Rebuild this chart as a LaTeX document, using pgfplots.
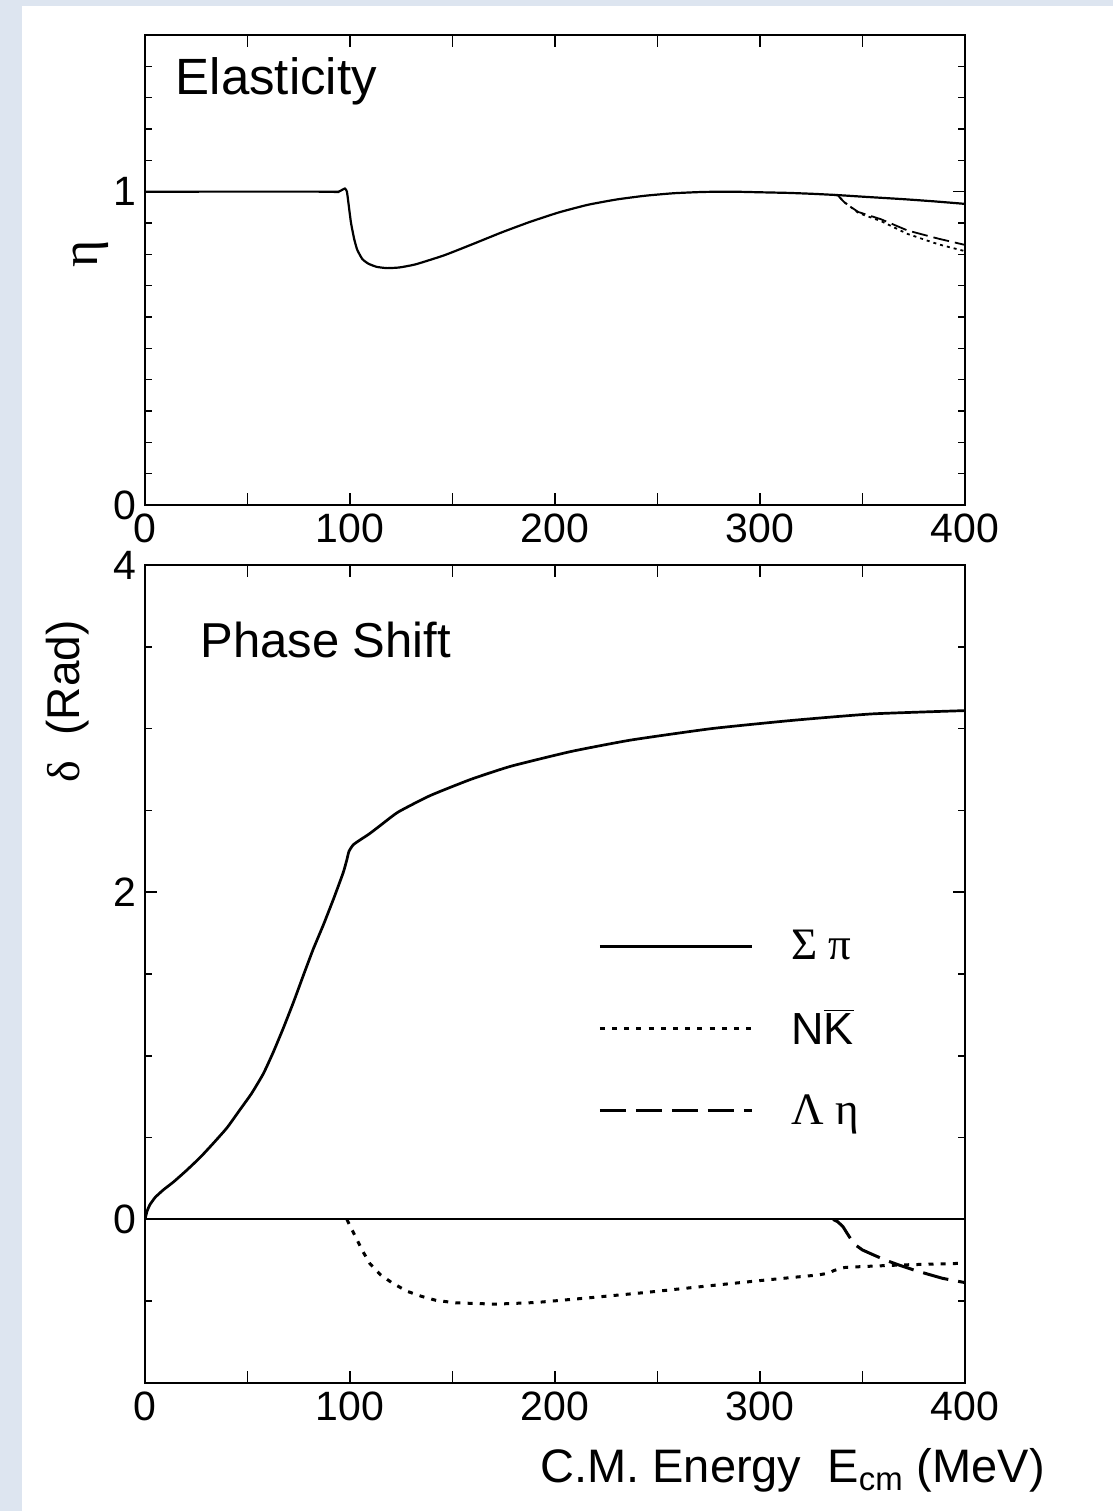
\documentclass[border=0pt]{standalone}
\usepackage{fontspec}
\setmainfont{Liberation Sans}
\newfontfamily\grk{Liberation Serif}
\usepackage{pgfplots}
\pgfplotsset{compat=1.18}
\definecolor{bgblue}{RGB}{221,229,240}

\pgfplotsset{
  myaxis/.style={
    scale only axis, width=410pt, anchor=south west,
    xmin=0, xmax=400,
    axis line style={line width=1pt},
    tick pos=both, tick align=inside,
    major tick length=6pt, minor tick length=3.5pt,
    every tick/.append style={line width=0.8pt, black},
    xtick={0,50,100,150,200,250,300,350,400},
    xticklabels={0,,100,,200,,300,,400},
    ticklabel style={font=\fontsize{20.5}{20.5}\selectfont},
    /pgf/number format/assume math mode=true,
    xticklabel style={yshift=-1pt},
    yticklabel style={xshift=-1pt},
  },
  dotstyle/.style={line width=1.5pt, dash pattern=on 2.5pt off 3.6pt},
  dashstyle/.style={line width=1.5pt, dash pattern=on 13pt off 5pt},
}

\begin{document}
\begin{tikzpicture}
\path[fill=bgblue, use as bounding box] (0pt,0pt) rectangle (556.5pt,755.5pt);
\fill[white] (11pt,0pt) rectangle (556.5pt,752.5pt);

% ---------------- Top: Elasticity ----------------
\begin{axis}[myaxis, at={(72.5pt,503pt)}, height=235pt,
  ymin=0, ymax=1.5,
  ytick={0,1}, yticklabels={0,1},
  minor ytick={0.1,0.2,0.3,0.4,0.5,0.6,0.7,0.8,0.9,1.1,1.2,1.3,1.4},
  ylabel={\grk η},
  ylabel style={at={(axis description cs:-0.066,0.534)}, anchor=center, font=\fontsize{26}{26}\selectfont},
]
\node[anchor=base west, font=\fontsize{25.5}{25.5}\selectfont, inner sep=0pt] at (rel axis cs:0.037,0.874) {Elasticity};
\addplot[black, line width=1.1pt, smooth, tension=0.3] coordinates {
(0,1) (90,1) (94,0.999) (96,1.005) (97.5,1.01) (98.5,1.0) (99.5,0.95) (100.5,0.9)
(102,0.85) (103.5,0.815) (106,0.785) (109,0.77) (113,0.76) (118,0.756) (124,0.758)
(132,0.768) (146,0.797) (160,0.833) (174,0.87) (188,0.904) (202,0.934) (216,0.958)
(230,0.975) (244,0.987) (258,0.995) (272,0.999) (286,1.0) (300,0.998) (314,0.996)
(326,0.993) (338,0.989) (350,0.984) (370,0.976) (385,0.969) (400,0.961)
};
\addplot[black, line width=0.9pt, dash pattern=on 1.5pt off 2pt] coordinates {
(336,0.99) (338,0.988) (341,0.967) (344.5,0.95) (348,0.932) (359,0.906) (372,0.865) (387,0.832) (400,0.81)
};
\addplot[black, line width=0.9pt, dash pattern=on 8pt off 3pt] coordinates {
(336,0.99) (338,0.988) (341,0.967) (344.5,0.95) (348,0.935) (359,0.912) (372,0.876) (387,0.85) (400,0.83)
};
\end{axis}

% ---------------- Bottom: Phase shift ----------------
\begin{axis}[myaxis, at={(72.5pt,64pt)}, height=409pt,
  ymin=-1, ymax=4,
  ytick={0,2,4}, yticklabels={0,2,4},
  minor ytick={-0.5,0.5,1,1.5,2.5,3,3.5},
  xlabel={C.M. Energy\ \ E\textsubscript{cm} (MeV)},
  xlabel style={at={(axis description cs:1.106,-0.122)}, anchor=base east, font=\fontsize{23.5}{24}\selectfont},
  ylabel={{\grk δ}\ \ (Rad)},
  ylabel style={at={(axis description cs:-0.094,0.833)}, anchor=center, font=\fontsize{23}{23}\selectfont},
  legend style={draw=none, fill=none, at={(axis description cs:0.545,0.564)}, anchor=north west,
    font=\fontsize{22.5}{22.5}\selectfont, row sep=19.5pt,
    /tikz/every odd column/.append style={column sep=17pt}},
  legend cell align=left,
  legend image code/.code={\draw[#1] (0pt,0pt) -- (76pt,0pt);},
]
\node[anchor=base west, font=\fontsize{24.5}{24.5}\selectfont, inner sep=0pt] at (rel axis cs:0.067,0.8875) {Phase Shift};
\addplot[black, line width=1pt, forget plot] coordinates {(0,0) (400,0)};
\addplot[black, line width=1.35pt, smooth, tension=0.3] coordinates {
(0,0) (1,0.05) (2.4,0.09) (5,0.135) (8.9,0.18) (14,0.23) (20.3,0.3) (27,0.38)
(33.3,0.465) (40,0.56) (46.3,0.67) (52,0.77) (57.7,0.89) (62.5,1.02) (67.5,1.17)
(72.5,1.33) (77.2,1.49) (82,1.65) (87,1.80) (92,1.96) (96.7,2.12) (98.5,2.20)
(99.5,2.25) (101.6,2.29) (105,2.32) (109.8,2.36) (115,2.41) (123.5,2.49) (139,2.59)
(159,2.69) (178.5,2.77) (207.8,2.86) (237,2.93) (276.4,3.00) (315.6,3.05) (354.9,3.09) (400,3.11)
};
\addlegendentry{\grk Σ π}
\addplot[black, dotstyle] coordinates {
(98.5,0) (100,-0.04) (102.7,-0.106) (106,-0.19) (109.7,-0.27) (115,-0.34) (120.8,-0.39)
(128,-0.44) (134.8,-0.47) (142,-0.495) (151.6,-0.51) (171,-0.518) (190.8,-0.508)
(216,-0.48) (244,-0.447) (272,-0.41) (300,-0.374) (328,-0.34) (333,-0.33) (336,-0.313)
(340,-0.297) (342,-0.293) (356,-0.285) (370,-0.278) (400,-0.268)
};
\addlegendentry{N$\overline{\hbox{K}}$}
\addplot[black, dashstyle] coordinates {
(335.7,0) (338,-0.015) (340.5,-0.045) (342.5,-0.085) (344.6,-0.126) (347,-0.16)
(350,-0.187) (355,-0.215) (361,-0.248) (368,-0.28) (375,-0.309) (382,-0.335)
(389,-0.36) (395,-0.375) (400,-0.386)
};
\addlegendentry{\grk Λ η}
\end{axis}
\end{tikzpicture}
\end{document}
